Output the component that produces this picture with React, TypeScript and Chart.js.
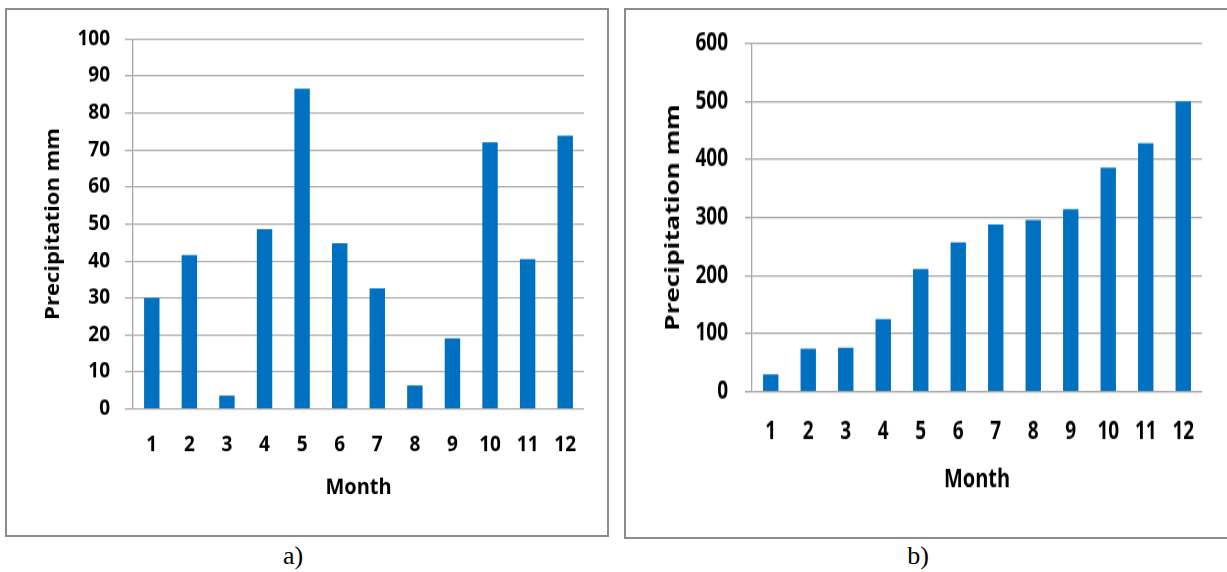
import React, { useEffect, useRef } from "react";
import { Chart, registerables } from "chart.js";

Chart.register(...registerables);

const months = ["1", "2", "3", "4", "5", "6", "7", "8", "9", "10", "11", "12"];
const precipA = [30, 41.6, 3.6, 48.6, 86.6, 44.8, 32.6, 6.4, 19.1, 72.1, 40.5, 73.9];
const precipB = [30, 74, 76, 125, 211, 257, 288, 296, 314, 386, 428, 500];
const yTitle = "Precipitation mm";
const xTitle = "Month";

const FONT = "'Open Sans', Lato, sans-serif";
const GRID = "#a8a8a8";
const BAR = "#0070C0";

type Cfg = {
  data: number[];
  max: number;
  step: number;
  w: number;
  h: number;
  s: number;
  plotLeft: number;
  plotRight: number;
  plotTop: number;
  plotBottom: number;
  tickLen: number;
  yPad: number;
  titlePadTop: number;
  xPad: number;
  monthPadBottom: number;
};

function BarPanel({ cfg }: { cfg: Cfg }) {
  const ref = useRef<HTMLCanvasElement>(null);
  useEffect(() => {
    if (!ref.current) return;
    const c = cfg;
    const chart = new Chart(ref.current, {
      type: "bar",
      data: {
        labels: months,
        datasets: [
          {
            data: c.data,
            backgroundColor: BAR,
            borderWidth: 0,
            barPercentage: 0.41,
            categoryPercentage: 1,
          },
        ],
      },
      options: {
        responsive: false,
        animation: false,
        devicePixelRatio: 1,
        layout: {
          padding: { left: 0, top: c.plotTop, right: c.w - c.plotRight, bottom: 0 },
        },
        plugins: { legend: { display: false }, tooltip: { enabled: false } },
        scales: {
          x: {
            grid: { display: false, drawTicks: false },
            border: { display: false },
            ticks: {
              color: "#000",
              padding: c.xPad,
              maxRotation: 0,
              autoSkip: false,
              font: { family: FONT, size: 19, weight: "bold" },
            },
            title: {
              display: true,
              text: xTitle,
              color: "#000",
              padding: { top: 0, bottom: c.monthPadBottom },
              font: { family: FONT, size: 20, weight: "bold" },
            },
            afterFit: (scale: any) => {
              scale.height = c.h - c.plotBottom;
              scale.paddingLeft = 0;
              scale.paddingRight = 0;
            },
          },
          y: {
            min: 0,
            max: c.max,
            ticks: {
              stepSize: c.step,
              color: "#000",
              padding: c.yPad,
              font: { family: FONT, size: 19, weight: "bold" },
            },
            grid: { color: GRID, lineWidth: 1.3, drawTicks: true, tickLength: c.tickLen, tickColor: GRID },
            border: { display: true, color: GRID, width: 1.3 },
            title: {
              display: true,
              text: yTitle,
              color: "#000",
              padding: { top: c.titlePadTop, bottom: 0 },
              font: { family: FONT, size: 20, weight: "bold" },
            },
            afterFit: (scale: any) => {
              scale.width = c.plotLeft;
              scale.paddingTop = 0;
              scale.paddingBottom = 0;
            },
          },
        },
      },
    });
    return () => chart.destroy();
  }, [cfg]);
  return (
    <canvas
      ref={ref}
      width={cfg.w}
      height={cfg.h}
      style={{
        position: "absolute",
        left: 0,
        top: 0,
        width: cfg.w + "px",
        height: cfg.h + "px",
        transform: `scaleY(${cfg.s})`,
        transformOrigin: "0 0",
      }}
    />
  );
}

const cfgA: Cfg = {
  data: precipA,
  max: 100,
  step: 10,
  w: 600,
  h: 476,
  s: 1.1,
  plotLeft: 126,
  plotRight: 577,
  plotTop: 26.4,
  plotBottom: 362.7,
  tickLen: 8,
  yPad: 15,
  titlePadTop: 34,
  xPad: 21.3,
  monthPadBottom: 29.5,
};

const cfgB: Cfg = {
  data: precipB,
  max: 600,
  step: 100,
  w: 601,
  h: 404,
  s: 1.3,
  plotLeft: 126,
  plotRight: 576,
  plotTop: 25.6,
  plotBottom: 293.6,
  tickLen: 7,
  yPad: 17,
  titlePadTop: 35,
  xPad: 19.5,
  monthPadBottom: 30.3,
};

export default function App() {
  const boxStyle = (left: number, width: number, height: number): React.CSSProperties => ({
    position: "absolute",
    left,
    top: 8,
    width,
    height,
    boxSizing: "border-box",
    border: "2px solid #8c8c8c",
    overflow: "hidden",
    background: "#fff",
  });
  const capStyle = (cx: number): React.CSSProperties => ({
    position: "absolute",
    left: cx - 30,
    width: 60,
    top: 541,
    height: 30,
    lineHeight: "30px",
    textAlign: "center",
    fontFamily: "'Liberation Serif', 'Times New Roman', serif",
    fontSize: 26,
    color: "#000",
  });
  return (
    <div
      style={{
        position: "absolute",
        left: 0,
        top: 0,
        width: 1227,
        height: 572,
        overflow: "hidden",
        background: "#fff",
      }}
    >
      <div style={boxStyle(5, 604, 529)}>
        <BarPanel cfg={cfgA} />
      </div>
      <div style={boxStyle(624, 620, 531)}>
        <BarPanel cfg={cfgB} />
      </div>
      <div style={capStyle(293)}>a)</div>
      <div style={capStyle(918)}>b)</div>
    </div>
  );
}
